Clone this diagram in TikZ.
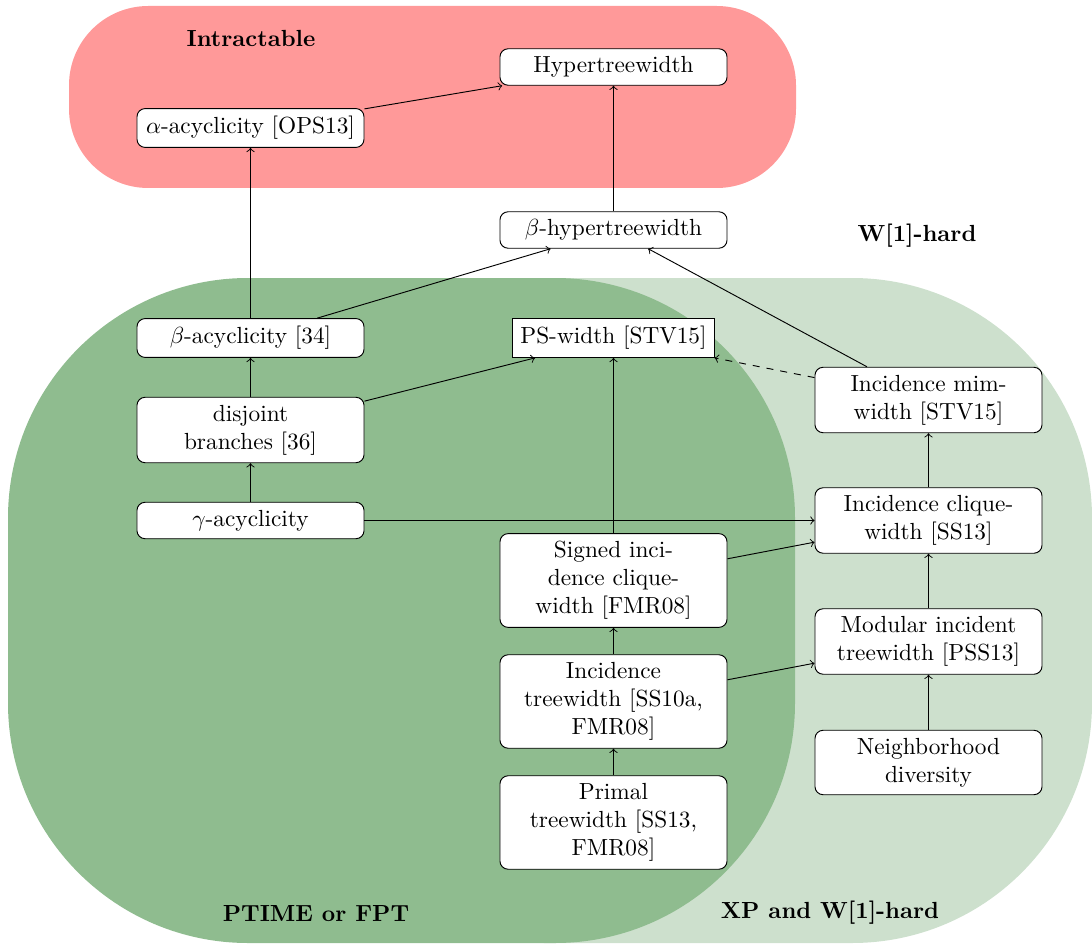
\documentclass[tikz,border=0pt]{standalone}
\definecolor{redbg}{RGB}{255,153,153}
\definecolor{darkbg}{RGB}{143,188,143}
\definecolor{lightbg}{RGB}{205,224,205}
\begin{document}
\begin{tikzpicture}[x=0.429pt,y=-0.429pt,
  box/.style={draw, fill=white, rounded corners=3.5pt, align=center, minimum width=97.4pt, inner sep=3.33pt},
  sqbox/.style={draw, fill=white, align=center, inner sep=3.33pt},
  region/.style={font=\bfseries},
  arr/.style={->}]
\useasboundingbox (0,0) rectangle (1092,945);
\fill[lightbg, rounded corners=103pt] (305,278) rectangle (1092,943);
\fill[darkbg, rounded corners=103pt] (8,278) rectangle (795,943);
\fill[redbg, rounded corners=34pt] (69,6) rectangle (796,188);

\node[region] (lint) at (251,38) {Intractable};
\node[region] (lw1) at (917,236) {W[1]-hard};
\node[region] (lpt) at (316,914) {PTIME or FPT};
\node[region] (lxp) at (830,913) {XP and W[1]-hard};

\node[box] (hyper) at (613.5,67) {Hypertreewidth};
\node[box] (alpha) at (250.5,128) {$\alpha$-acyclicity [OPS13]};
\node[box] (bhyper) at (613.5,230) {$\beta$-hypertreewidth};
\node[box] (beta) at (250.5,338) {$\beta$-acyclicity [34]};
\node[sqbox] (ps) at (613.5,338) {PS-width [STV15]};
\node[box] (disj) at (250.5,430) {disjoint\\branches [36]};
\node[box] (gamma) at (250.5,520.5) {$\gamma$-acyclicity};
\node[box] (signed) at (613.5,580.5) {Signed inci-\\dence clique-\\width [FMR08]};
\node[box] (itw) at (613.5,701.5) {Incidence\\treewidth [SS10a,\\FMR08]};
\node[box] (primal) at (613.5,822.5) {Primal\\treewidth [SS13,\\FMR08]};
\node[box] (mim) at (928.5,400) {Incidence mim-\\width [STV15]};
\node[box] (icw) at (928.5,520.5) {Incidence clique-\\width [SS13]};
\node[box] (mod) at (928.5,641.5) {Modular incident\\treewidth [PSS13]};
\node[box] (nd) at (928.5,762.5) {Neighborhood\\diversity};

\draw[arr] (alpha) -- (hyper);
\draw[arr] (bhyper) -- (hyper);
\draw[arr] (beta) -- (alpha);
\draw[arr] (beta) -- (bhyper);
\draw[arr] (disj) -- (beta);
\draw[arr] (disj) -- (ps);
\draw[arr] (gamma) -- (disj);
\draw[arr] (gamma) -- (icw);
\draw[arr] (signed) -- (ps);
\draw[arr] (signed) -- (icw);
\draw[arr] (itw) -- (signed);
\draw[arr] (itw) -- (mod);
\draw[arr] (primal) -- (itw);
\draw[arr] (nd) -- (mod);
\draw[arr] (mod) -- (icw);
\draw[arr] (icw) -- (mim);
\draw[arr] (mim) -- (bhyper);
\draw[arr, dashed] (mim) -- (ps);
\end{tikzpicture}
\end{document}
